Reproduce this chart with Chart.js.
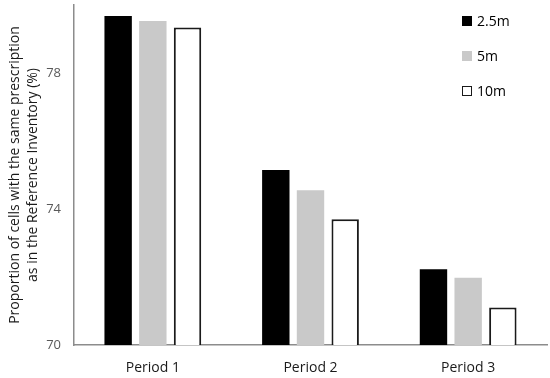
<!DOCTYPE html>
<html>
<head>
<meta charset="utf-8">
<script src="https://cdn.jsdelivr.net/npm/chart.js@4"></script>
<style>
  body { margin: 0; background: #fff; }
  #wrap { position: relative; width: 550px; height: 378px; }
  #legend { position: absolute; left: 462px; top: 11px; font-family: "Open Sans", sans-serif; font-size: 14px; color: #000; }
  #legend div { height: 35px; display: flex; align-items: flex-start; }
  #legend span.box { display: inline-block; width: 10px; height: 10px; margin: 5px 5px 0 0; box-sizing: border-box; }
</style>
</head>
<body>
<div id="wrap">
  <canvas id="chart" width="550" height="378"></canvas>
  <div id="legend"></div>
</div>
<script>
const periods = ['Period 1', 'Period 2', 'Period 3']
const res25 = [79.68, 75.15, 72.23]
const res5 = [79.53, 74.55, 71.98]
const res10 = [79.34, 73.70, 71.10]
const yTicks = [70, 74, 78]

const series = [
    { label: '2.5m', data: res25, fill: '#000000', border: '#000000', bw: 0 },
    { label: '5m', data: res5, fill: '#c9c9c9', border: '#c9c9c9', bw: 0 },
    { label: '10m', data: res10, fill: '#ffffff', border: '#1a1a1a', bw: 2 }
]

const legend = document.getElementById('legend')
series.forEach(s => {
    const row = document.createElement('div')
    const box = document.createElement('span')
    box.className = 'box'
    box.style.background = s.fill
    box.style.border = s.bw ? '1.5px solid ' + s.border : 'none'
    row.appendChild(box)
    row.appendChild(document.createTextNode(s.label))
    legend.appendChild(row)
})

const ctx = document.getElementById('chart').getContext('2d')
new Chart(ctx, {
    type: 'bar',
    data: {
        labels: periods,
        datasets: series.map(s => ({
            label: s.label,
            data: s.data,
            backgroundColor: s.fill,
            borderColor: s.border,
            borderWidth: s.bw,
            categoryPercentage: 0.66,
            barPercentage: 0.79
        }))
    },
    options: {
        responsive: false,
        animation: false,
        layout: { padding: { top: 5, right: 3, left: 0, bottom: 0 } },
        plugins: {
            legend: { display: false },
            tooltip: { enabled: false }
        },
        scales: {
            x: {
                grid: { display: false, drawTicks: false },
                border: { color: '#8c8c8c', width: 1.5 },
                ticks: { color: '#1a1a1a', padding: 15, font: { family: 'Open Sans', size: 14 } },
                afterFit: scale => { scale.height = 33; scale.paddingLeft = 0; scale.paddingRight = 0 }
            },
            y: {
                min: 70,
                max: 80,
                grid: { display: false, drawTicks: false },
                border: { color: '#8c8c8c', width: 1.5 },
                afterBuildTicks: scale => { scale.ticks = yTicks.map(v => ({ value: v })) },
                ticks: { color: '#595959', padding: 13, font: { family: 'Open Sans', size: 13 } },
                title: {
                    display: true,
                    text: ['Proportion of cells with the same prescription', 'as in the Reference Inventory (%)'],
                    color: '#1a1a1a',
                    font: { family: 'Open Sans', size: 14, lineHeight: 1.3 },
                    padding: { top: 6, bottom: 0 }
                },
                afterFit: scale => { scale.width = 74; scale.paddingTop = 0; scale.paddingBottom = 0 }
            }
        }
    }
})
</script>
</body>
</html>
